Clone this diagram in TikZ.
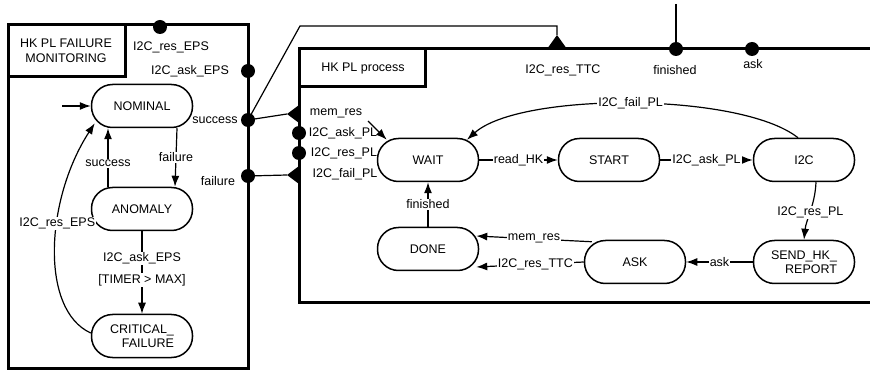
\documentclass[tikz,border=0pt]{standalone}
\usepackage{fontspec}
\setmainfont{Liberation Sans}
\usetikzlibrary{calc,positioning,arrows.meta}

\begin{document}
\begin{tikzpicture}[x=1pt,y=-1pt,>={Latex[length=11pt,width=8pt]},
  every node/.style={font=\fontsize{12.5}{14.5}\selectfont},
  state/.style={draw,line width=1.5pt,rounded corners=21pt,minimum width=101pt,minimum height=43pt,inner sep=2pt,align=right},
  lbl/.style={fill=white,inner sep=1pt},
  trans/.style={->,line width=1.2pt},
  wire/.style={line width=1.2pt},
  frame/.style={line width=3pt},
  port/.style={circle,fill,inner sep=0pt,minimum size=14pt}]
  \useasboundingbox (0,0) rectangle (870,371);

  % failure monitoring block
  \draw[frame] (8,25) rectangle (248,368);
  \draw[frame] (8,25) rectangle (125,77);
  \node[align=center] (fmtitle) at (66,51) {HK PL FAILURE\\MONITORING};

  \node[port] (resEPS) at (160,27) {};
  \node (resEPSlab) at (171,47) {I2C\_res\_EPS};
  \node[port] (askEPS) at (248,71) {};
  \node (askEPSlab) at (190,71) {I2C\_ask\_EPS};
  \node[port] (succ) at (248,120) {};
  \node (succlab) at (215,120) {success};
  \node[port] (fail) at (248,176) {};
  \node (faillab) at (218,181) {failure};

  \node[state] (NOMINAL) at (142,106) {NOMINAL};
  \node[state] (ANOMALY) at (142,209) {ANOMALY};
  \node[state] (CRIT) at (142,336) {CRITICAL\_\\FAILURE};
  \coordinate (init) at (62,106);

  \draw[trans] (init) -- (NOMINAL.west);
  \draw[trans] ($(NOMINAL.south)+(35,0)$) -- node[lbl]{failure} ($(ANOMALY.north)+(33,0)$);
  \draw[trans] ($(ANOMALY.north)+(-34,0)$) -- node[lbl,pos=0.4]{success} ($(NOMINAL.south)+(-34,0)$);
  \draw[trans] (ANOMALY.south) -- node[lbl,pos=0.33]{I2C\_ask\_EPS}
    node[lbl,pos=0.59]{[TIMER > MAX]} (CRIT.north);
  \draw[trans] ($(CRIT.west)+(0,-3)$) .. controls (40,310) and (45,200) ..
    node[lbl,pos=0.6]{I2C\_res\_EPS} ($(NOMINAL.south west)+(4,-5)$);

  % process block
  \draw[frame] (872,49) -- (299,49) -- (299,303) -- (872,303);
  \draw[frame] (299,49) rectangle (425,87);
  \node (prtitle) at (363,69) {HK PL process};

  \coordinate (memport) at (287,114);
  \coordinate (failport) at (287,175);
  \coordinate (ttcport) at (557,35);
  \fill (memport) -- (299,105) -- (299,123) -- cycle;
  \fill (failport) -- (299,166) -- (299,184) -- cycle;
  \fill (ttcport) -- (547,49) -- (567,49) -- cycle;
  \node[port] (askPL) at (299,133) {};
  \node[port] (resPL) at (299,153) {};
  \node[port] (finport) at (676,49) {};
  \node[port] (askport) at (752,49) {};
  \coordinate (fintop) at (676,4);

  \draw[wire] (succ.center) -- (memport);
  \draw[wire] (succ.center) -- (300,26) -- (557,26) -- (ttcport);
  \draw[wire] (fail.center) -- (failport);
  \draw[wire] (fintop) -- (finport.center);

  \node (ttclab) at (563,70) {I2C\_res\_TTC};
  \node (finlab) at (675,70) {finished};
  \node (asklab) at (753,64) {ask};
  \node (memlab) at (336,113) {mem\_res};
  \node (askPLlab) at (343,133) {I2C\_ask\_PL};
  \node (resPLlab) at (344,153) {I2C\_res\_PL};
  \node (failPLlab) at (345,174) {I2C\_fail\_PL};

  \node[state] (WAIT) at (428,160) {WAIT};
  \node[state] (START) at (609,160) {START};
  \node[state] (I2C) at (804,160) {I2C};
  \node[state] (SEND) at (804,262) {SEND\_HK\_\\REPORT};
  \node[state] (ASK) at (635,262) {ASK};
  \node[state] (DONE) at (428,249) {DONE};
  \coordinate (memin) at (368,121);

  \draw[trans] (memin) -- ($(WAIT.north west)+(10,2)$);
  \draw[trans] (WAIT) -- node[lbl]{read\_HK} (START);
  \draw[trans] (START) -- node[lbl]{I2C\_ask\_PL} (I2C);
  \draw[trans] ($(I2C.south)+(12,0)$) .. controls (815,205) and (806,220) ..
    node[lbl]{I2C\_res\_PL} (SEND.north);
  \draw[trans] (SEND) -- node[lbl]{ask} (ASK);
  \draw[trans] ($(ASK.north west)+(8,2)$) -- node[lbl]{mem\_res} ($(DONE.east)+(-3,-13)$);
  \draw[trans] (ASK.west) -- node[lbl,pos=0.45]{I2C\_res\_TTC} ($(DONE.east)+(-3,18)$);
  \draw[trans] (DONE) -- node[lbl]{finished} (WAIT);
  \draw[trans] ($(I2C.north)+(-6,0)$) .. controls (740,92) and (520,92) ..
    node[lbl]{I2C\_fail\_PL} ($(WAIT.north)+(39,2)$);
\end{tikzpicture}
\end{document}
